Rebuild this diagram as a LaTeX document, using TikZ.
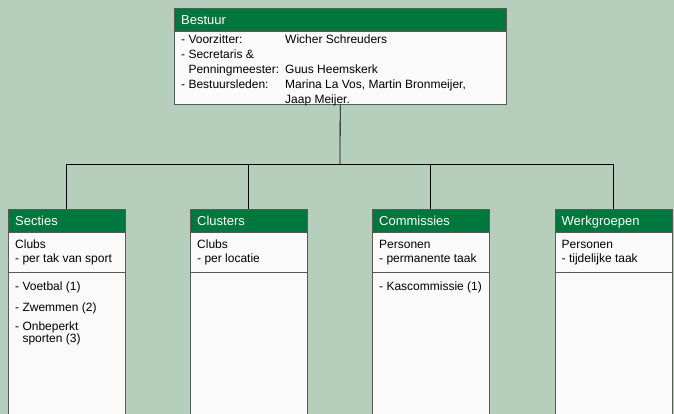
\documentclass[tikz,border=0pt]{standalone}
\usepackage{fontspec}
\setmainfont{Liberation Sans}
\usetikzlibrary{positioning}
\definecolor{achtergrond}{HTML}{B6CEBC}
\definecolor{kopgroen}{HTML}{00773D}
\definecolor{rand}{HTML}{5A5A5A}
\definecolor{vakwit}{HTML}{FAFAFA}

\begin{document}
\begin{tikzpicture}[
    x=1pt, y=-1pt,
    font=\fontsize{12}{14.8}\selectfont,
    kop/.style={
		rectangle,
		draw=rand,
		fill=kopgroen,
		text=white,
		font=\fontsize{13}{15}\selectfont,
		anchor=north west,
		inner xsep=7pt,
		inner ysep=0pt,
		text width=103pt,
		text height=9.5pt,
		text depth=0pt,
		minimum height=23pt,
		align=left
	},
	vak/.style={
		rectangle,
		draw=rand,
		fill=vakwit,
		anchor=north west,
		inner sep=0pt,
		minimum width=117pt
	},
	tekst/.style={
		anchor=base west,
		inner sep=0pt
	},
	lijn/.style={
		draw=black,
		line width=0.8pt
	}
  ]
    % background and frame of the chart
  \fill [achtergrond] (0,0) rectangle (674,414);
  \clip (0,0) rectangle (674,414);

    % the board on top
  \node [kop, text width=318pt, minimum height=22.5pt] (bestuur-kop) at (174,8.5) {Bestuur};
  \node [vak, minimum width=332pt, minimum height=73pt] (bestuur) at (174,31.5) {};
  \node [tekst] (bestuur-tekst) at (181,44)
 {%
 \begin{tabular}[t]{@{}p{104pt}@{}l@{}}
  - Voorzitter: & Wicher Schreuders\\
  - Secretaris \& & \\
  \hspace{7.3pt}Penningmeester: & Guus Heemskerk\\
  - Bestuursleden: & Marina La Vos, Martin Bronmeijer,\\
   & Jaap Meijer.
 \end{tabular}
 };

    % the four parts below
  \node [kop] (secties-kop) at (8,209) {Secties};
  \node [vak, minimum height=40pt] (secties-boven) at (8,232) {};
  \node [vak, minimum height=160pt] (secties-onder) at (8,272) {};
  \node [tekst] (secties-tekst) at (15,248)
 {%
 \begin{tabular}[t]{@{}l@{}}
  Clubs\\
  - per tak van sport
 \end{tabular}
 };
  \node [tekst] (voetbal) at (15,290.5) {- Voetbal (1)};
  \node [tekst] (zwemmen) at (15,311) {- Zwemmen (2)};
  \node [tekst] (onbeperkt) at (15,330) {- Onbeperkt};
  \node [tekst] (sporten) at (22.3,342) {sporten (3)};

  \node [kop] (clusters-kop) at (190,209) {Clusters};
  \node [vak, minimum height=40pt] (clusters-boven) at (190,232) {};
  \node [vak, minimum height=160pt] (clusters-onder) at (190,272) {};
  \node [tekst] (clusters-tekst) at (197,248)
 {%
 \begin{tabular}[t]{@{}l@{}}
  Clubs\\
  - per locatie
 \end{tabular}
 };

  \node [kop] (commissies-kop) at (372,209) {Commissies};
  \node [vak, minimum height=40pt] (commissies-boven) at (372,232) {};
  \node [vak, minimum height=160pt] (commissies-onder) at (372,272) {};
  \node [tekst] (commissies-tekst) at (379,248)
 {%
 \begin{tabular}[t]{@{}l@{}}
  Personen\\
  - permanente taak
 \end{tabular}
 };
  \node [tekst] (kascommissie) at (379,290.5) {- Kascommissie (1)};

  \node [kop] (werkgroepen-kop) at (554.5,209) {Werkgroepen};
  \node [vak, minimum height=40pt] (werkgroepen-boven) at (554.5,232) {};
  \node [vak, minimum height=160pt] (werkgroepen-onder) at (554.5,272) {};
  \node [tekst] (werkgroepen-tekst) at (561.5,248)
 {%
 \begin{tabular}[t]{@{}l@{}}
  Personen\\
  - tijdelijke taak
 \end{tabular}
 };

    % the tree lines
  \coordinate (splitsing) at (340,164);
  \draw [lijn] (bestuur.south) -- (splitsing);
  \draw [lijn] (splitsing) -| (secties-kop.north);
  \draw [lijn] (splitsing) -| (clusters-kop.north);
  \draw [lijn] (splitsing) -| (commissies-kop.north);
  \draw [lijn] (splitsing) -| (werkgroepen-kop.north);

\end{tikzpicture}
\end{document}
